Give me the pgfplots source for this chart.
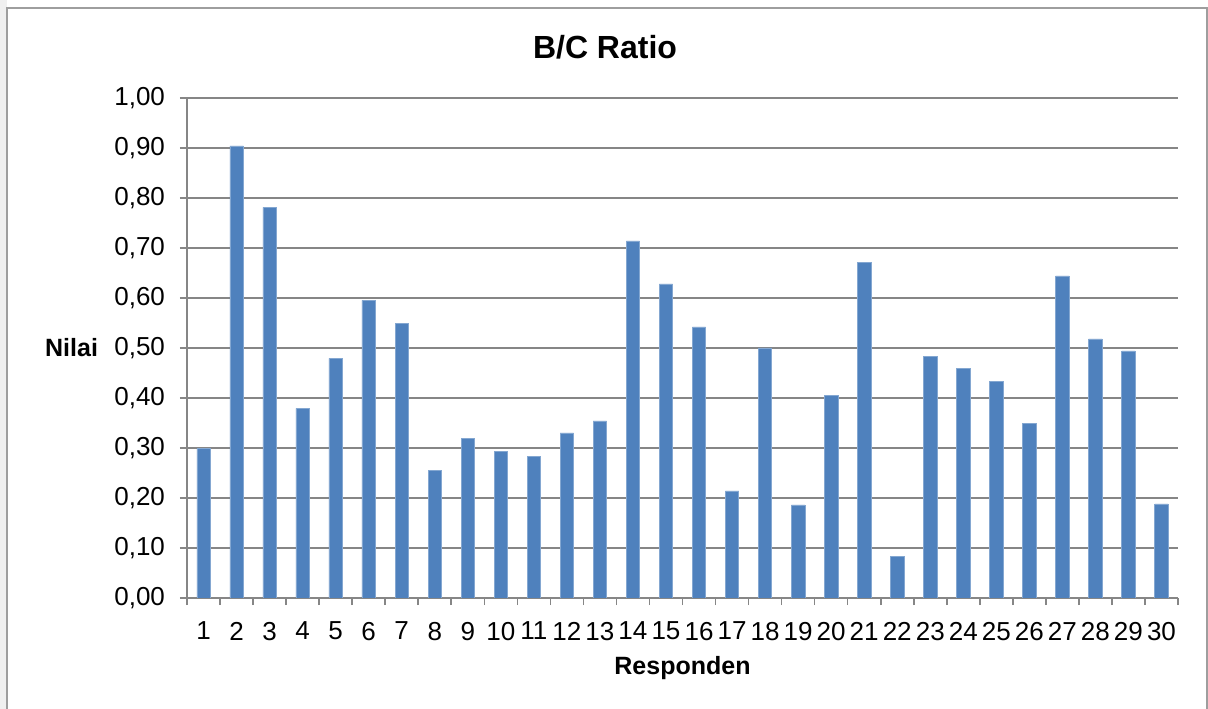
\documentclass[border=0pt]{standalone}
\usepackage{fontspec}
\setmainfont{Liberation Sans}
\usepackage{pgfplots}
\pgfplotsset{compat=1.18}
\definecolor{barblue}{RGB}{79,129,189}
\definecolor{gridgray}{RGB}{134,134,134}

\begin{document}
\begin{tikzpicture}
\useasboundingbox (0,0) rectangle (604bp,354.5bp);
\fill[gray!12] (0,0) rectangle (3.5bp,354.5bp);
\draw[gridgray!80, line width=0.9bp] (3.5bp,-5bp) rectangle (603.5bp,350.5bp);
\begin{axis}[
 at={(93.5bp,55.5bp)}, anchor=south west,
 scale only axis,
 width=495.5bp, height=250bp,
 xmin=0.5, xmax=30.5,
 ymin=0, ymax=1,
 ybar, bar width=6.7bp,
 axis lines*=left,
 axis line style={draw=gridgray, line width=0.8bp, -},
 xtick={1,...,30},
 minor xtick={0.5,1.5,...,30.5},
 major x tick style={draw=none},
 minor x tick style={draw=gridgray, line width=0.8bp},
 ytick={0,0.1,...,1.0},
 ymajorgrids,
 grid style={draw=gridgray, line width=0.8bp},
 y tick style={draw=gridgray, line width=0.8bp},
 tick align=outside,
 major tick length=3.5bp,
 minor tick length=3.5bp,
 tick label style={font=\fontsize{13bp}{15bp}\selectfont},
 /pgf/number format/assume math mode=true,
 xticklabel style={yshift=-5bp},
 yticklabel style={xshift=-4bp, /pgf/number format/.cd, fixed, fixed zerofill, precision=2, use comma},
 title={B/C Ratio},
 title style={font=\fontsize{16bp}{19bp}\selectfont\bfseries, at={(rel axis cs:0.4218,1)}, anchor=center, yshift=19.5bp},
 xlabel={Responden},
 xlabel style={font=\fontsize{12.5bp}{15bp}\selectfont\bfseries, at={(rel axis cs:0.5,0)}, anchor=center, yshift=-35bp},
 ylabel={Nilai},
 ylabel style={font=\fontsize{12.5bp}{15bp}\selectfont\bfseries, rotate=-90, at={(rel axis cs:0,0.5)}, anchor=east, xshift=-41bp},
]
\addplot[fill=barblue, draw=barblue!70!white, line width=0.3bp] coordinates {
 (1,0.299) (2,0.904) (3,0.781) (4,0.379) (5,0.479) (6,0.595)
 (7,0.549) (8,0.255) (9,0.319) (10,0.293) (11,0.283) (12,0.330)
 (13,0.354) (14,0.714) (15,0.628) (16,0.542) (17,0.214) (18,0.500)
 (19,0.186) (20,0.405) (21,0.671) (22,0.083) (23,0.483) (24,0.459)
 (25,0.433) (26,0.349) (27,0.644) (28,0.518) (29,0.494) (30,0.188)
};
\end{axis}
\end{tikzpicture}
\end{document}
